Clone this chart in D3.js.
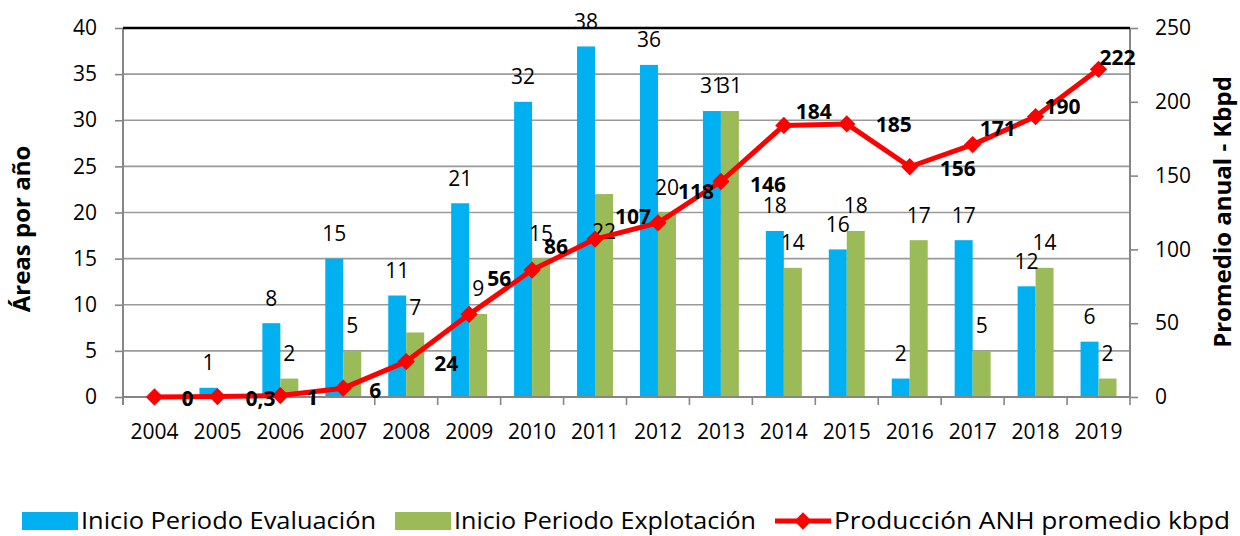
<!DOCTYPE html>
<html>
<head>
<meta charset="utf-8">
<script src="https://cdn.jsdelivr.net/npm/d3@7"></script>
<style>
  body { margin: 0; background: #fff; }
  svg text { font-family: "Open Sans", "Noto Sans", sans-serif; fill: #000; }
</style>
</head>
<body>
<div id="chart"></div>
<script>
/* global d3 */

var years = ["2004", "2005", "2006", "2007", "2008", "2009", "2010", "2011",
             "2012", "2013", "2014", "2015", "2016", "2017", "2018", "2019"];
var evaluacion = [null, 1, 8, 15, 11, 21, 32, 38, 36, 31, 18, 16, 2, 17, 12, 6];
var explotacion = [null, null, 2, 5, 7, 9, 15, 22, 20, 31, 14, 18, 17, 5, 14, 2];
var produccion = [0, 0.3, 1, 6, 24, 56, 86, 107, 118, 146, 184, 185, 156, 171, 190, 222];
var produccionLabels = ["0", "0,3", "1", "6", "24", "56", "86", "107", "118", "146",
                        "184", "185", "156", "171", "190", "222"];
var leftTicks = [0, 5, 10, 15, 20, 25, 30, 35, 40];
var rightTicks = [0, 50, 100, 150, 200, 250];

// where the line's data labels were dragged to (offset from the marker, px)
var lineLabelOffset = [[33, 2], [43, 2], [32, 2], [32, 3], [40, 2], [30, -36], [24, -23], [38, -22],
                       [38, -31], [47, 3], [30, -14], [47, 1], [48, 2], [25, -16], [27, -10], [19, -12]];

var width = 1240,
    height = 536,
    margin = {top: 28, right: 110, bottom: 139, left: 123},
    innerWidth = width - margin.left - margin.right,
    innerHeight = height - margin.top - margin.bottom;

var blue = "#00b0f0", green = "#9bbb59", red = "#ff0000", grid = "#9a9a9a", axisCol = "#868686";

var svg = d3.select("#chart").append("svg")
    .attr("width", width)
    .attr("height", height);

var g = svg.append("g")
    .attr("transform", "translate(" + margin.left + "," + margin.top + ")");

var x = d3.scaleBand().domain(years).range([0, innerWidth]).padding(0);
var bw = x.bandwidth();
var groupPad = bw * 0.375 / 1.75;   // excel gap width 75%
var x1 = d3.scaleBand().domain(["ev", "ex"]).range([groupPad, bw - groupPad]).padding(0);
var yL = d3.scaleLinear().domain([0, 40]).range([innerHeight, 0]);
var yR = d3.scaleLinear().domain([0, 250]).range([innerHeight, 0]);

// gridlines
g.append("g").selectAll("line")
    .data(leftTicks.slice(1, -1))
    .enter().append("line")
    .attr("x1", 0).attr("x2", innerWidth)
    .attr("y1", function(d) { return yL(d); })
    .attr("y2", function(d) { return yL(d); })
    .attr("stroke", grid)
    .attr("stroke-width", 1.6);

// bars
var series = [
    {key: "ev", values: evaluacion, color: blue},
    {key: "ex", values: explotacion, color: green}
];

series.forEach(function(s) {
    var pts = years.map(function(yr, i) { return {year: yr, v: s.values[i], i: i}; })
        .filter(function(d) { return d.v !== null; });

    g.append("g").selectAll("rect")
        .data(pts)
        .enter().append("rect")
        .attr("x", function(d) { return x(d.year) + x1(s.key); })
        .attr("y", function(d) { return yL(d.v); })
        .attr("width", x1.bandwidth())
        .attr("height", function(d) { return innerHeight - yL(d.v); })
        .attr("fill", s.color);

    s.pts = pts;
});

// left axis
var leftAxis = g.append("g")
    .call(d3.axisLeft(yL).tickValues(leftTicks).tickSize(8).tickPadding(18));
leftAxis.select(".domain").remove();
leftAxis.selectAll("line").attr("stroke", axisCol).attr("stroke-width", 1.6);
leftAxis.selectAll("text").style("font-size", "21px");
g.append("line")
    .attr("x1", 0).attr("x2", 0).attr("y1", 0).attr("y2", innerHeight + 8)
    .attr("stroke", axisCol).attr("stroke-width", 2);

// right axis
var rightAxis = g.append("g")
    .attr("transform", "translate(" + innerWidth + ",0)")
    .call(d3.axisRight(yR).tickValues(rightTicks).tickSize(8).tickPadding(17));
rightAxis.select(".domain").remove();
rightAxis.selectAll("line").attr("stroke", axisCol).attr("stroke-width", 1.6);
rightAxis.selectAll("text").style("font-size", "21px");
g.append("line")
    .attr("x1", innerWidth).attr("x2", innerWidth).attr("y1", 0).attr("y2", innerHeight)
    .attr("stroke", axisCol).attr("stroke-width", 2);

// bottom axis
var bottomAxis = g.append("g")
    .attr("transform", "translate(0," + innerHeight + ")")
    .call(d3.axisBottom(x).tickSize(0).tickPadding(27));
bottomAxis.select(".domain").remove();
bottomAxis.selectAll("text").style("font-size", "21px");
g.append("line")
    .attr("x1", 0).attr("x2", innerWidth).attr("y1", innerHeight).attr("y2", innerHeight)
    .attr("stroke", axisCol).attr("stroke-width", 2);
g.append("g").selectAll("line")
    .data(years.concat(["end"]))
    .enter().append("line")
    .attr("x1", function(d, i) { return i * bw; })
    .attr("x2", function(d, i) { return i * bw; })
    .attr("y1", innerHeight).attr("y2", innerHeight + 8)
    .attr("stroke", axisCol).attr("stroke-width", 1.6);

// bar labels
series.forEach(function(s) {
    g.append("g").selectAll("text")
        .data(s.pts)
        .enter().append("text")
        .attr("x", function(d) { return x(d.year) + x1(s.key) + x1.bandwidth() / 2; })
        .attr("y", function(d) {
            // the 2011 explotacion label sits inside its bar
            var dy = (s.key === "ex" && d.year === "2011") ? 38 : -25;
            return yL(d.v) + dy;
        })
        .attr("dy", "0.35em")
        .attr("text-anchor", "middle")
        .style("font-size", "21px")
        .text(function(d) { return d.v; });
});

// production line
var cx = function(i) { return x(years[i]) + bw / 2; };
var line = d3.line()
    .x(function(d, i) { return cx(i); })
    .y(function(d) { return yR(d); });

g.append("path")
    .datum(produccion)
    .attr("d", line)
    .attr("fill", "none")
    .attr("stroke", red)
    .attr("stroke-width", 5)
    .attr("stroke-linejoin", "round");

var diamond = d3.symbol().type(d3.symbolDiamond2).size(190);

g.append("g").selectAll("path")
    .data(produccion)
    .enter().append("path")
    .attr("d", diamond)
    .attr("transform", function(d, i) { return "translate(" + cx(i) + "," + yR(d) + ")"; })
    .attr("fill", red);

g.append("g").selectAll("text")
    .data(produccion)
    .enter().append("text")
    .attr("x", function(d, i) { return cx(i) + lineLabelOffset[i][0]; })
    .attr("y", function(d, i) { return yR(d) + lineLabelOffset[i][1]; })
    .attr("dy", "0.35em")
    .attr("text-anchor", "middle")
    .style("font-size", "21px")
    .style("font-weight", "bold")
    .text(function(d, i) { return produccionLabels[i]; });

// top border of the plot area
g.append("line")
    .attr("x1", 0).attr("x2", innerWidth).attr("y1", 0).attr("y2", 0)
    .attr("stroke", "#000").attr("stroke-width", 2.5);

// axis titles
svg.append("text")
    .attr("transform", "translate(30,229) rotate(-90)")
    .attr("text-anchor", "middle")
    .style("font-size", "24px")
    .style("font-weight", "bold")
    .text("Áreas por año");

svg.append("text")
    .attr("transform", "translate(1231,212) rotate(-90)")
    .attr("text-anchor", "middle")
    .style("font-size", "24px")
    .style("font-weight", "bold")
    .text("Promedio anual - Kbpd");

// legend
var legend = svg.append("g").attr("transform", "translate(0,521)");
var legendItems = [
    {label: "Inicio Periodo Evaluación", color: blue, type: "rect", x: 22, w: 295},
    {label: "Inicio Periodo Explotación", color: green, type: "rect", x: 395, w: 302},
    {label: "Producción ANH promedio kbpd", color: red, type: "line", x: 775, w: 396}
];

legendItems.forEach(function(d) {
    if (d.type === "rect") {
        legend.append("rect")
            .attr("x", d.x).attr("y", -9).attr("width", 56).attr("height", 18)
            .attr("fill", d.color);
    } else {
        legend.append("line")
            .attr("x1", d.x).attr("x2", d.x + 56).attr("y1", 0).attr("y2", 0)
            .attr("stroke", d.color).attr("stroke-width", 5);
        legend.append("path")
            .attr("d", diamond)
            .attr("transform", "translate(" + (d.x + 28) + ",0)")
            .attr("fill", d.color);
    }
    legend.append("text")
        .attr("x", d.x + 59)
        .attr("dy", "0.35em")
        .attr("textLength", d.w)
        .attr("lengthAdjust", "spacingAndGlyphs")
        .style("font-size", "23px")
        .text(d.label);
});
</script>
</body>
</html>
